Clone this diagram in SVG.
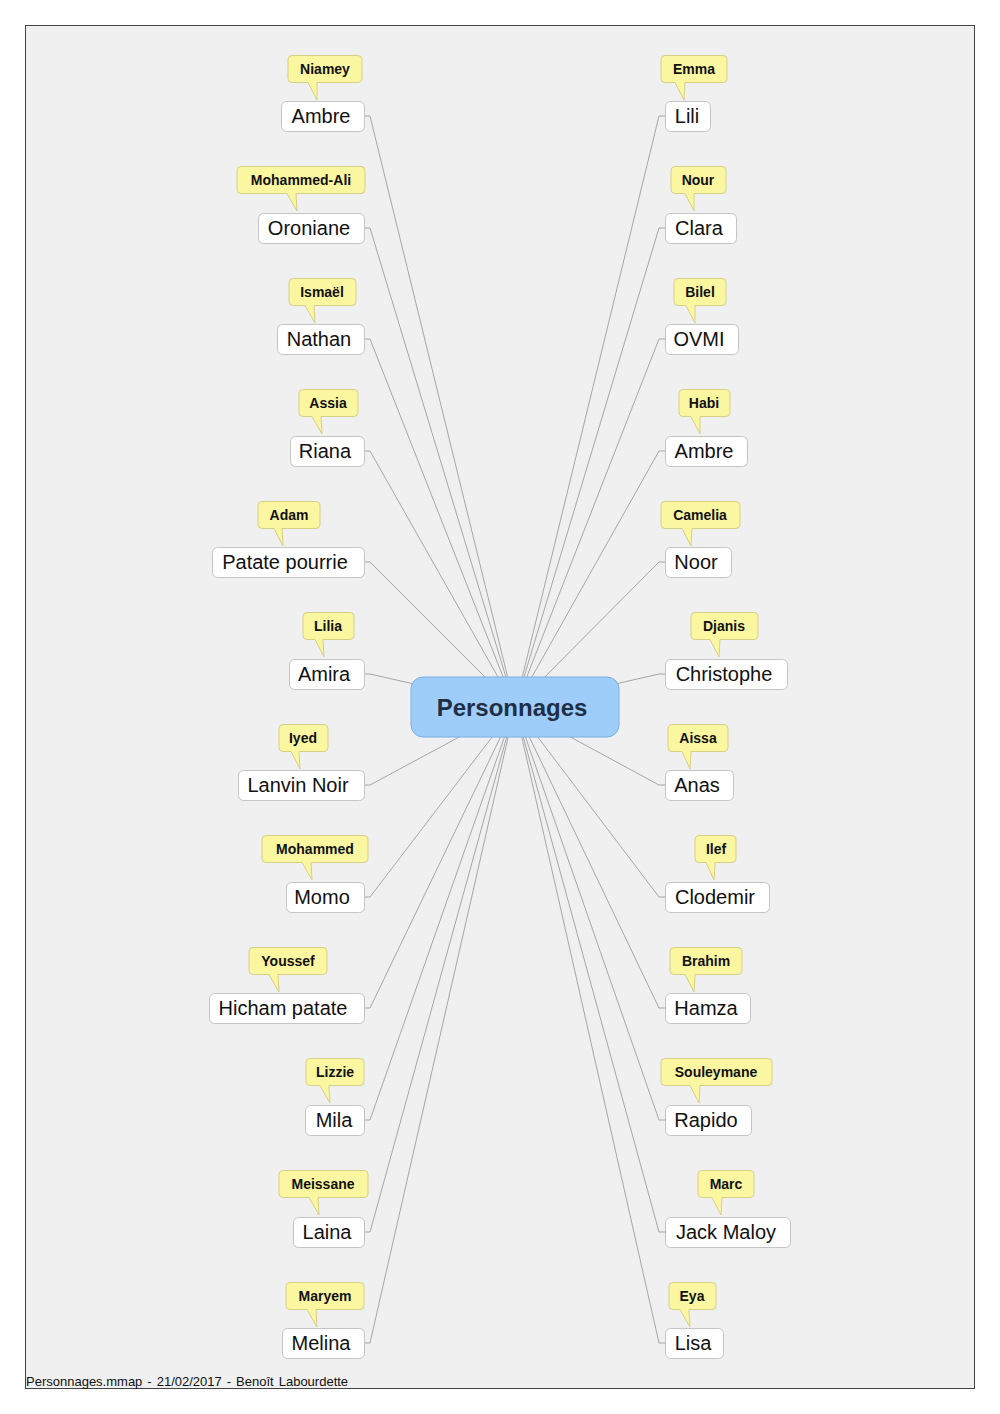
<svg xmlns="http://www.w3.org/2000/svg" width="1000" height="1414" viewBox="0 0 1000 1414">
<style>
.node rect{fill:#ffffff;stroke:#c4c4c4;stroke-width:1}
.node text{font-family:"Liberation Sans",Arial,sans-serif;font-size:20px;fill:#111;text-anchor:middle}
.call path{fill:#fbf7a0;stroke:#d6cf86;stroke-width:1}
.call text{font-family:"Liberation Sans",Arial,sans-serif;font-size:14px;font-weight:bold;fill:#111;text-anchor:middle}
.conn path{fill:none;stroke:#a6a6a6;stroke-width:1}
</style>
<rect x="0" y="0" width="1000" height="1414" fill="#ffffff"/>
<rect x="25.5" y="25.5" width="949" height="1363" fill="#f0f0f0" stroke="#444" stroke-width="1"/>
<g id="connectors" class="conn">
<path d="M364 116H370L515 707"/>
<path d="M364 228H370L515 707"/>
<path d="M364 339H370L515 707"/>
<path d="M364 451H370L515 707"/>
<path d="M364 562H370L515 707"/>
<path d="M364 674H370L515 707"/>
<path d="M364 785H370L515 707"/>
<path d="M364 897H370L515 707"/>
<path d="M364 1008H370L515 707"/>
<path d="M364 1120H370L515 707"/>
<path d="M364 1232H370L515 707"/>
<path d="M364 1343H370L515 707"/>
<path d="M665 116H659L515 707"/>
<path d="M665 228H659L515 707"/>
<path d="M665 339H659L515 707"/>
<path d="M665 451H659L515 707"/>
<path d="M665 562H659L515 707"/>
<path d="M665 674H659L515 707"/>
<path d="M665 785H659L515 707"/>
<path d="M665 897H659L515 707"/>
<path d="M665 1008H659L515 707"/>
<path d="M665 1120H659L515 707"/>
<path d="M665 1232H659L515 707"/>
<path d="M665 1343H659L515 707"/>
</g>
<g id="center">
<rect x="411" y="677" width="208" height="60" rx="12" fill="#9fcdf9" stroke="#7aaee6" stroke-width="1"/>
<text x="512" y="716" font-family="Liberation Sans,Arial,sans-serif" font-size="24" font-weight="bold" fill="#1e2f45" text-anchor="middle">Personnages</text>
</g>
<!-- left nodes -->
<g id="n-ambre-l" class="node"><rect x="281.5" y="101.5" width="83" height="30" rx="5"/><text x="321" y="123">Ambre</text></g>
<g id="c-niamey" class="call"><path d="M292 55.5H358Q362 55.5 362 59.5V78.5Q362 82.5 358 82.5H317L317 100L308 82.5H292Q288 82.5 288 78.5V59.5Q288 55.5 292 55.5Z"/><text x="325" y="74">Niamey</text></g>

<g id="n-oroniane" class="node"><rect x="258.5" y="213.5" width="106" height="30" rx="5"/><text x="309" y="235">Oroniane</text></g>
<g id="c-mohammedali" class="call"><path d="M241 166.5H361Q365 166.5 365 170.5V189.5Q365 193.5 361 193.5H296L297 211L287 193.5H241Q237 193.5 237 189.5V170.5Q237 166.5 241 166.5Z"/><text x="301" y="185">Mohammed-Ali</text></g>

<g id="n-nathan" class="node"><rect x="277.5" y="324.5" width="87" height="30" rx="5"/><text x="319" y="346">Nathan</text></g>
<g id="c-ismael" class="call"><path d="M293 278.5H352Q356 278.5 356 282.5V301.5Q356 305.5 352 305.5H314L315 323L305 305.5H293Q289 305.5 289 301.5V282.5Q289 278.5 293 278.5Z"/><text x="322" y="297">Ismaël</text></g>

<g id="n-riana" class="node"><rect x="290.5" y="436.5" width="74" height="30" rx="5"/><text x="325" y="458">Riana</text></g>
<g id="c-assia" class="call"><path d="M303 389.5H354Q358 389.5 358 393.5V412.5Q358 416.5 354 416.5H321L322 434L312 416.5H303Q299 416.5 299 412.5V393.5Q299 389.5 303 389.5Z"/><text x="328" y="408">Assia</text></g>

<g id="n-patate" class="node"><rect x="212.5" y="547.5" width="152" height="30" rx="5"/><text x="285" y="569">Patate pourrie</text></g>
<g id="c-adam" class="call"><path d="M262 501.5H316Q320 501.5 320 505.5V524.5Q320 528.5 316 528.5H282L283 546L274 528.5H262Q258 528.5 258 524.5V505.5Q258 501.5 262 501.5Z"/><text x="289" y="520">Adam</text></g>

<g id="n-amira" class="node"><rect x="289.5" y="659.5" width="75" height="30" rx="5"/><text x="324" y="681">Amira</text></g>
<g id="c-lilia" class="call"><path d="M307 612.5H350Q354 612.5 354 616.5V635.5Q354 639.5 350 639.5H323L324 657L315 639.5H307Q303 639.5 303 635.5V616.5Q303 612.5 307 612.5Z"/><text x="328" y="631">Lilia</text></g>

<g id="n-lanvin" class="node"><rect x="238.5" y="770.5" width="126" height="30" rx="5"/><text x="298" y="792">Lanvin Noir</text></g>
<g id="c-iyed" class="call"><path d="M283 724.5H324Q328 724.5 328 728.5V747.5Q328 751.5 324 751.5H299L300 769L291 751.5H283Q279 751.5 279 747.5V728.5Q279 724.5 283 724.5Z"/><text x="303" y="743">Iyed</text></g>

<g id="n-momo" class="node"><rect x="286.5" y="882.5" width="78" height="30" rx="5"/><text x="322" y="904">Momo</text></g>
<g id="c-mohammed" class="call"><path d="M266 835.5H364Q368 835.5 368 839.5V858.5Q368 862.5 364 862.5H311L312 880L302 862.5H266Q262 862.5 262 858.5V839.5Q262 835.5 266 835.5Z"/><text x="315" y="854">Mohammed</text></g>

<g id="n-hicham" class="node"><rect x="209.5" y="993.5" width="155" height="30" rx="5"/><text x="283" y="1015">Hicham patate</text></g>
<g id="c-youssef" class="call"><path d="M253 947.5H323Q327 947.5 327 951.5V970.5Q327 974.5 323 974.5H278L279 992L269 974.5H253Q249 974.5 249 970.5V951.5Q249 947.5 253 947.5Z"/><text x="288" y="966">Youssef</text></g>

<g id="n-mila" class="node"><rect x="305.5" y="1105.5" width="59" height="30" rx="5"/><text x="334" y="1127">Mila</text></g>
<g id="c-lizzie" class="call"><path d="M310 1058.5H360Q364 1058.5 364 1062.5V1081.5Q364 1085.5 360 1085.5H329L330 1103L320 1085.5H310Q306 1085.5 306 1081.5V1062.5Q306 1058.5 310 1058.5Z"/><text x="335" y="1077">Lizzie</text></g>

<g id="n-laina" class="node"><rect x="293.5" y="1217.5" width="71" height="30" rx="5"/><text x="327" y="1239">Laina</text></g>
<g id="c-meissane" class="call"><path d="M283 1170.5H364Q368 1170.5 368 1174.5V1193.5Q368 1197.5 364 1197.5H318L319 1215L309 1197.5H283Q279 1197.5 279 1193.5V1174.5Q279 1170.5 283 1170.5Z"/><text x="323" y="1189">Meissane</text></g>

<g id="n-melina" class="node"><rect x="282.5" y="1328.5" width="82" height="30" rx="5"/><text x="321" y="1350">Melina</text></g>
<g id="c-maryem" class="call"><path d="M290 1282.5H360Q364 1282.5 364 1286.5V1305.5Q364 1309.5 360 1309.5H316L317 1327L307 1309.5H290Q286 1309.5 286 1305.5V1286.5Q286 1282.5 290 1282.5Z"/><text x="325" y="1301">Maryem</text></g>

<!-- right nodes -->
<g id="n-lili" class="node"><rect x="665.5" y="101.5" width="45" height="30" rx="5"/><text x="687" y="123">Lili</text></g>
<g id="c-emma" class="call"><path d="M665 55.5H723Q727 55.5 727 59.5V78.5Q727 82.5 723 82.5H685L684 100L675 82.5H665Q661 82.5 661 78.5V59.5Q661 55.5 665 55.5Z"/><text x="694" y="74">Emma</text></g>

<g id="n-clara" class="node"><rect x="665.5" y="213.5" width="71" height="30" rx="5"/><text x="699" y="235">Clara</text></g>
<g id="c-nour" class="call"><path d="M675 166.5H722Q726 166.5 726 170.5V189.5Q726 193.5 722 193.5H694L694 211L685 193.5H675Q671 193.5 671 189.5V170.5Q671 166.5 675 166.5Z"/><text x="698" y="185">Nour</text></g>

<g id="n-ovmi" class="node"><rect x="665.5" y="324.5" width="73" height="30" rx="5"/><text x="699" y="346">OVMI</text></g>
<g id="c-bilel" class="call"><path d="M678 278.5H722Q726 278.5 726 282.5V301.5Q726 305.5 722 305.5H695L695 323L686 305.5H678Q674 305.5 674 301.5V282.5Q674 278.5 678 278.5Z"/><text x="700" y="297">Bilel</text></g>

<g id="n-ambre-r" class="node"><rect x="665.5" y="436.5" width="82" height="30" rx="5"/><text x="704" y="458">Ambre</text></g>
<g id="c-habi" class="call"><path d="M683 389.5H726Q730 389.5 730 393.5V412.5Q730 416.5 726 416.5H700L700 434L691 416.5H683Q679 416.5 679 412.5V393.5Q679 389.5 683 389.5Z"/><text x="704" y="408">Habi</text></g>

<g id="n-noor" class="node"><rect x="665.5" y="547.5" width="66" height="30" rx="5"/><text x="696" y="569">Noor</text></g>
<g id="c-camelia" class="call"><path d="M665 501.5H736Q740 501.5 740 505.5V524.5Q740 528.5 736 528.5H692L691 546L682 528.5H665Q661 528.5 661 524.5V505.5Q661 501.5 665 501.5Z"/><text x="700" y="520">Camelia</text></g>

<g id="n-christophe" class="node"><rect x="665.5" y="659.5" width="122" height="30" rx="5"/><text x="724" y="681">Christophe</text></g>
<g id="c-djanis" class="call"><path d="M695 612.5H754Q758 612.5 758 616.5V635.5Q758 639.5 754 639.5H720L719 657L710 639.5H695Q691 639.5 691 635.5V616.5Q691 612.5 695 612.5Z"/><text x="724" y="631">Djanis</text></g>

<g id="n-anas" class="node"><rect x="665.5" y="770.5" width="68" height="30" rx="5"/><text x="697" y="792">Anas</text></g>
<g id="c-aissa" class="call"><path d="M672 724.5H724Q728 724.5 728 728.5V747.5Q728 751.5 724 751.5H691L690 769L682 751.5H672Q668 751.5 668 747.5V728.5Q668 724.5 672 724.5Z"/><text x="698" y="743">Aissa</text></g>

<g id="n-clodemir" class="node"><rect x="665.5" y="882.5" width="104" height="30" rx="5"/><text x="715" y="904">Clodemir</text></g>
<g id="c-ilef" class="call"><path d="M699 835.5H732Q736 835.5 736 839.5V858.5Q736 862.5 732 862.5H715L714 880L706 862.5H699Q695 862.5 695 858.5V839.5Q695 835.5 699 835.5Z"/><text x="716" y="854">Ilef</text></g>

<g id="n-hamza" class="node"><rect x="665.5" y="993.5" width="85" height="30" rx="5"/><text x="706" y="1015">Hamza</text></g>
<g id="c-brahim" class="call"><path d="M674 947.5H738Q742 947.5 742 951.5V970.5Q742 974.5 738 974.5H695L694 992L685 974.5H674Q670 974.5 670 970.5V951.5Q670 947.5 674 947.5Z"/><text x="706" y="966">Brahim</text></g>

<g id="n-rapido" class="node"><rect x="665.5" y="1105.5" width="86" height="30" rx="5"/><text x="706" y="1127">Rapido</text></g>
<g id="c-souleymane" class="call"><path d="M665 1058.5H768Q772 1058.5 772 1062.5V1081.5Q772 1085.5 768 1085.5H700L699 1103L690 1085.5H665Q661 1085.5 661 1081.5V1062.5Q661 1058.5 665 1058.5Z"/><text x="716" y="1077">Souleymane</text></g>

<g id="n-jack" class="node"><rect x="665.5" y="1217.5" width="125" height="30" rx="5"/><text x="726" y="1239">Jack Maloy</text></g>
<g id="c-marc" class="call"><path d="M702 1170.5H750Q754 1170.5 754 1174.5V1193.5Q754 1197.5 750 1197.5H722L721 1215L712 1197.5H702Q698 1197.5 698 1193.5V1174.5Q698 1170.5 702 1170.5Z"/><text x="726" y="1189">Marc</text></g>

<g id="n-lisa" class="node"><rect x="665.5" y="1328.5" width="58" height="30" rx="5"/><text x="693" y="1350">Lisa</text></g>
<g id="c-eya" class="call"><path d="M673 1282.5H712Q716 1282.5 716 1286.5V1305.5Q716 1309.5 712 1309.5H689L690 1327L680 1309.5H673Q669 1309.5 669 1305.5V1286.5Q669 1282.5 673 1282.5Z"/><text x="692" y="1301">Eya</text></g>

<text x="26" y="1386" font-family="Liberation Sans,Arial,sans-serif" font-size="13" word-spacing="1.4" fill="#111">Personnages.mmap - 21/02/2017 - Benoît Labourdette</text>
</svg>
